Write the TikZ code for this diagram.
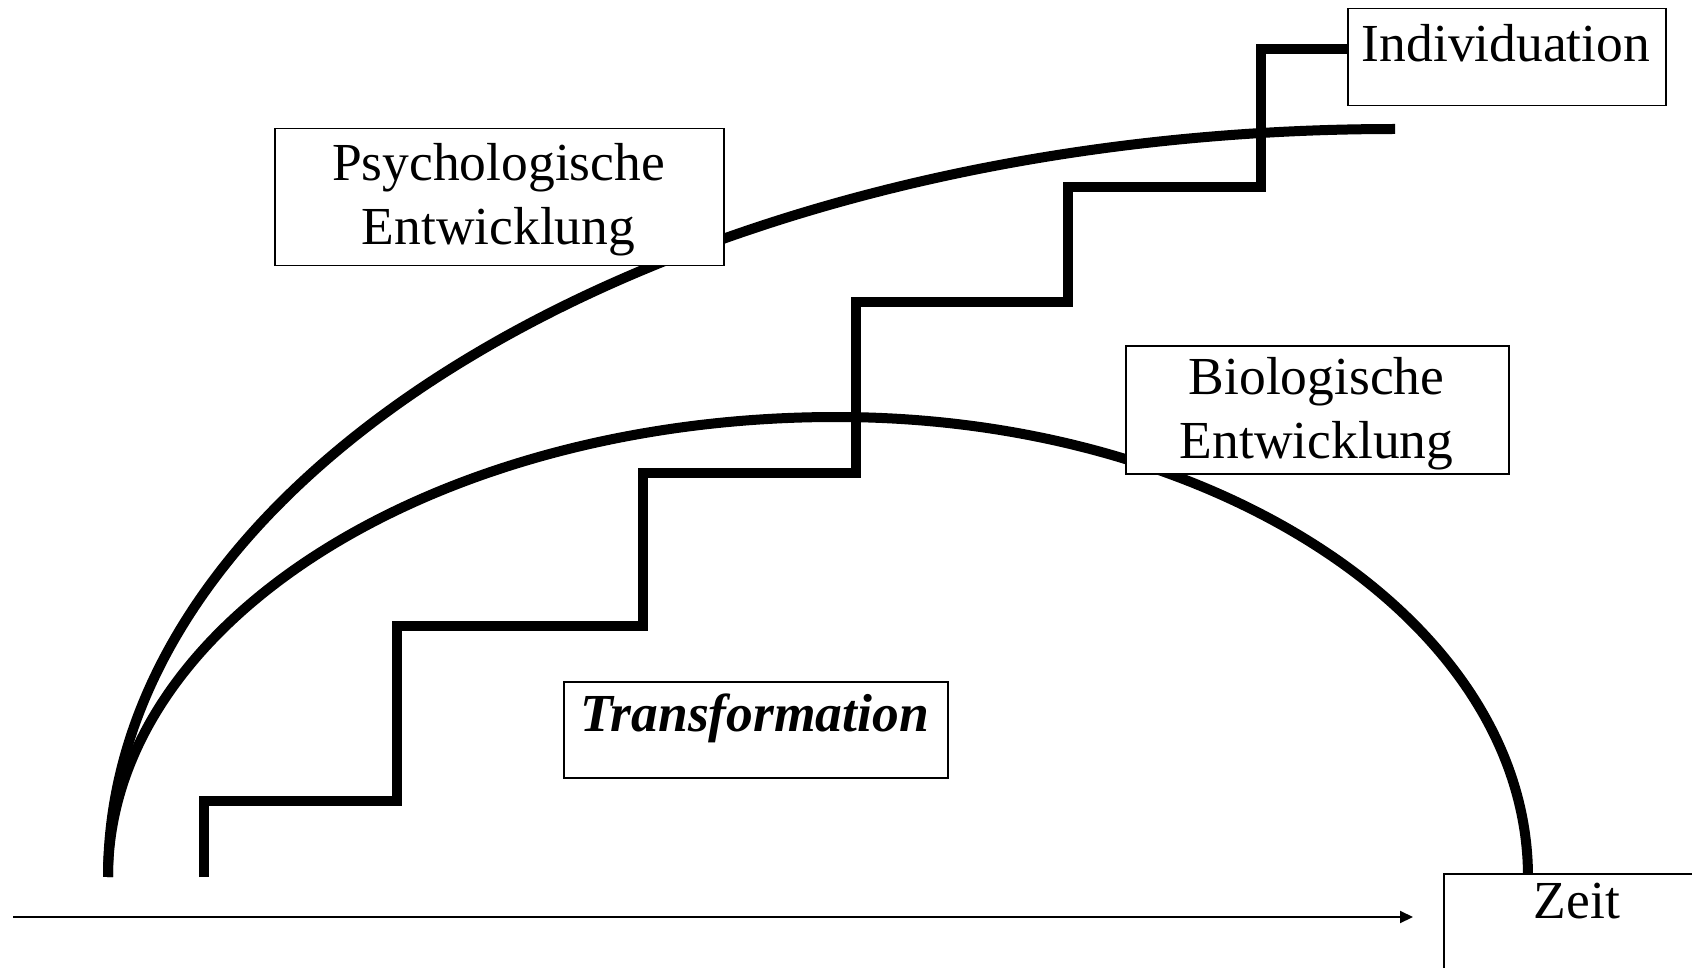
\documentclass[tikz,border=0pt]{standalone}
\usepackage{fontspec}
\setmainfont{Liberation Serif}
\usetikzlibrary{arrows.meta}
\newcommand{\fsz}{\fontsize{53.5}{64}\selectfont}
\tikzset{
  box/.style={draw, line width=1.5pt, fill=white, inner sep=0pt, anchor=north west},
  lbl/.style={anchor=base, inner sep=0pt, font=\fsz, align=center},
  heavy/.style={line width=10pt, line join=miter},
  axisline/.style={line width=2pt, -{Triangle[length=13pt,width=12pt]}}
}
\begin{document}
\begin{tikzpicture}[x=1pt,y=-1pt]
\useasboundingbox (0,0) rectangle (1692,968);
\clip (0,0) rectangle (1692,968);
\fill[white] (0,0) rectangle (1692,968);
% curves
\coordinate (start) at (108,877);
\coordinate (bpeak) at (836,417);
\coordinate (bend) at (1528,877);
\coordinate (pend) at (1395,129);
\draw[heavy] (start) arc[start angle=180, end angle=90, x radius=1287, y radius=-748];
\draw[heavy] (start) arc[start angle=180, end angle=90, x radius=728, y radius=-460]
   arc[start angle=90, end angle=0, x radius=692, y radius=-460];
% staircase
\coordinate (s0) at (204,877);
\coordinate (s1) at (1347,49);
\draw[heavy] (s0) |- (397,801) |- (643,626) |- (856,473) |- (1068,302) |- (1261,187) |- (s1);
% axis
\coordinate (ax0) at (13,917);
\coordinate (ax1) at (1413,917);
\draw[axisline] (ax0) -- (ax1);
% boxes
\node[box, minimum width=449pt, minimum height=137pt] (psy) at (274,128) {};
\node[lbl] (psyt) at (498.5,245) {Psychologische\\Entwicklung};
\node[box, minimum width=383pt, minimum height=128pt] (bio) at (1125,345) {};
\node[lbl] (biot) at (1316.5,458) {Biologische\\Entwicklung};
\node[box, minimum width=318pt, minimum height=97pt] (ind) at (1347,8) {};
\node[lbl] (indt) at (1506,62) {Individuation};
\node[box, minimum width=384pt, minimum height=96pt] (tra) at (563,681) {};
\node[lbl, font=\fsz\bfseries\itshape] (trat) at (754.5,731) {Transformation};
\node[box, minimum width=300pt, minimum height=150pt] (zeit) at (1443,873) {};
\node[lbl] (zeitt) at (1577,918) {Zeit};
\end{tikzpicture}
\end{document}
